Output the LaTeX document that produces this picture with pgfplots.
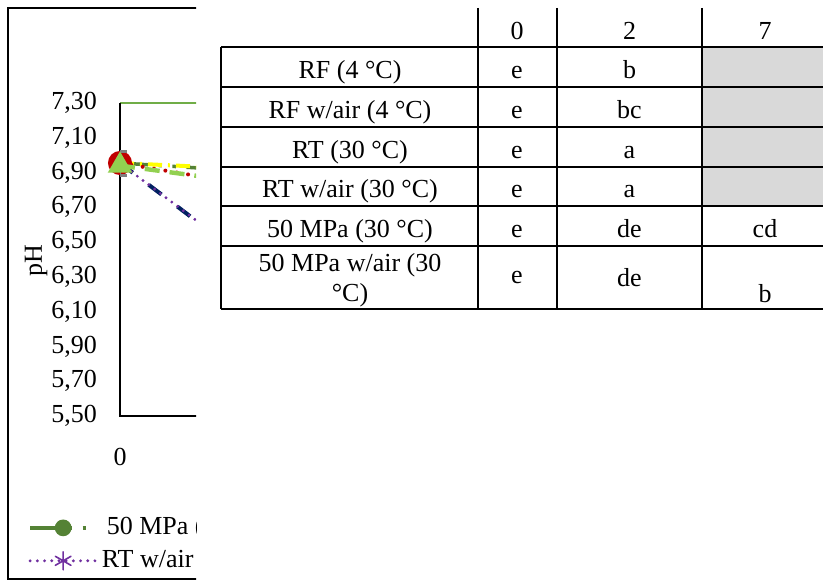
\documentclass[border=0pt]{standalone}
\usepackage{pgfplots}
\pgfplotsset{compat=1.18}
\usepackage{fontspec}
\setmainfont{Liberation Serif}
\definecolor{dkgreen}{HTML}{548235}
\definecolor{axgreen}{HTML}{70AD47}
\definecolor{lime}{HTML}{92D050}
\definecolor{redc}{HTML}{C00000}
\definecolor{yellowc}{HTML}{FFFF00}
\definecolor{navyc}{HTML}{002060}
\definecolor{purplec}{HTML}{7030A0}
\definecolor{errgray}{HTML}{7F7F7F}
\definecolor{tgray}{HTML}{D9D9D9}
\newcommand{\fs}{\fontsize{13}{15.6}\selectfont}
\begin{document}
\fs
\begin{tikzpicture}
\useasboundingbox (0,0) rectangle (411.5pt,-290.5pt);
% ---------- chart (cropped at the right) ----------
\begin{scope}
\clip (0,0) rectangle (98pt,-290.5pt);
\begin{scope}[x=0.5pt,y=-0.5pt]
\draw[line width=1pt] (198,8) -- (8,8) -- (8,579) -- (198,579);
\draw[line width=1pt, color=axgreen] (120,103) -- (198,103);
\draw[line width=1pt] (120,103) -- (120,416) -- (198,416);
\end{scope}
\begin{axis}[
  name=ax,
  at={(60pt,-208pt)}, anchor=south west,
  scale only axis, width=38pt, height=156.5pt,
  xmin=0, xmax=0.50667, ymin=5.5, ymax=7.3,
  axis line style={draw=none},
  major tick length=0pt,
  xtick={0}, xticklabels={0},
  ytick={5.5,5.7,5.9,6.1,6.3,6.5,6.7,6.9,7.1,7.3},
  /pgf/number format/assume math mode=true,
  yticklabel style={/pgf/number format/fixed, /pgf/number format/fixed zerofill,
    /pgf/number format/precision=2, /pgf/number format/use comma, xshift=-7pt},
  xticklabel style={yshift=-11.5pt},
  tick label style={font=\fs},
  ylabel={pH},
  every axis y label/.style={at={(axis description cs:-1.105,0.495)},rotate=90,anchor=center,font=\fs},
  clip mode=individual,
  legend columns=3,
  legend style={at={(axis description cs:-1.2105,-0.3083)}, anchor=north west,
    draw=none, fill=none, inner sep=0pt, font=\fs, nodes={inner sep=2pt}, row sep=1.5pt},
  legend image code/.code={\draw[mark repeat=2,mark phase=2,#1] plot coordinates {(0pt,0pt) (16.5pt,0pt) (33pt,0pt)};},
]
% drawing order
\addplot[forget plot, navyc, line width=2pt, dash pattern=on 8pt off 10pt,
  mark=square*, mark size=3pt, mark options={solid, fill=navyc}]
  coordinates {(0,6.955) (1,6.30)};
\addplot[forget plot, purplec, line width=1.6pt, dash pattern=on 0pt off 3.6pt, line cap=round,
  mark=asterisk, mark size=4.5pt, mark options={solid, line width=0.8pt}]
  coordinates {(0,6.954) (1,6.306)};
\addplot[forget plot, dkgreen, line width=1.75pt,
  dash pattern=on 14pt off 5.25pt on 1.75pt off 5.25pt on 1.75pt off 5.25pt,
  mark=*, mark size=3.3pt, mark options={solid, fill=dkgreen}]
  coordinates {(0,6.955) (1,6.90)};
\addplot[forget plot, yellowc, line width=2pt, dash pattern=on 7pt off 3pt on 1pt off 3pt,
  mark=diamond*, mark size=3.5pt, mark options={solid, fill=yellowc}]
  coordinates {(0,6.955) (1,6.915)};
\addplot[forget plot, redc, line width=2pt, dash pattern=on 0pt off 5.75pt, line cap=round,
  mark=*, mark size=5pt, mark options={solid, fill=redc}]
  coordinates {(0,6.955) (1,6.81)};
\addplot[forget plot, lime, line width=2.2pt, dash pattern=on 7.5pt off 5pt,
  mark=triangle*, mark size=4.9pt, mark options={solid, fill=lime},
  error bars/.cd, y dir=both, y explicit,
  error bar style={errgray, line width=1pt, solid},
  error mark options={rotate=90, mark size=3.25pt, errgray, line width=1.2pt}]
  coordinates {(0,6.94) += (0,0.08) -= (0,0.056) (1,6.825) +- (0,0.05)};
% legend (in legend order)
\addlegendimage{dkgreen, line width=1.75pt, dash pattern=on 14pt off 5.25pt on 1.75pt off 5.25pt on 1.75pt off 5.25pt, mark=*, mark size=3.3pt, mark options={solid, fill=dkgreen}}
\addlegendentry{50 MPa (30 °C)}
\addlegendimage{redc, line width=2pt, dash pattern=on 0pt off 5.75pt, line cap=round, mark=*, mark size=3.3pt, mark options={solid, fill=redc}}
\addlegendentry{RF (4 °C)}
\addlegendimage{yellowc, line width=2pt, dash pattern=on 7pt off 3pt on 1pt off 3pt, mark=diamond*, mark size=3.5pt, mark options={solid, fill=yellowc}}
\addlegendentry{RF w/air (4 °C)}
\addlegendimage{purplec, line width=1.6pt, dash pattern=on 0pt off 3.6pt, line cap=round, mark=asterisk, mark size=4.5pt, mark options={solid, line width=0.8pt}}
\addlegendentry{RT w/air (30 °C)}
\addlegendimage{navyc, line width=2pt, dash pattern=on 8pt off 10pt, mark=square*, mark size=3pt, mark options={solid, fill=navyc}}
\addlegendentry{RT (30 °C)}
\addlegendimage{lime, line width=2.2pt, dash pattern=on 7.5pt off 5pt, mark=triangle*, mark size=3.5pt, mark options={solid, fill=lime}}
\addlegendentry{50 MPa w/air (30 °C)}
\end{axis}
\end{scope}
% ---------- table ----------
\begin{scope}[x=0.5pt,y=-0.5pt]
\fill[tgray] (702,47) rectangle (823,206);
\foreach \yy in {47,87,127,167,206,246,309}{\draw[line width=1pt] (221,\yy) -- (823,\yy);}
\draw[line width=1pt] (221,47) -- (221,309);
\foreach \xx in {478,557,702}{\draw[line width=1pt] (\xx,8) -- (\xx,309);}
\node[anchor=base] at (517,40) {0};
\node[anchor=base] at (629.5,40) {2};
\node[anchor=base] at (765,40) {7};
\node[anchor=base] at (350,79) {RF (4 °C)};
\node[anchor=base] at (350,119) {RF w/air (4 °C)};
\node[anchor=base] at (350,159) {RT (30 °C)};
\node[anchor=base] at (350,198) {RT w/air (30 °C)};
\node[anchor=base] at (350,238) {50 MPa (30 °C)};
\node[anchor=base] at (350,272) {50 MPa w/air (30};
\node[anchor=base] at (350,302) {°C)};
\foreach \yy in {79,119,159,198,238}{\node[anchor=base] at (517,\yy) {e};}
\node[anchor=base] at (517,284) {e};
\node[anchor=base] at (629.5,79) {b};
\node[anchor=base] at (629.5,119) {bc};
\node[anchor=base] at (629.5,159) {a};
\node[anchor=base] at (629.5,198) {a};
\node[anchor=base] at (629.5,238) {de};
\node[anchor=base] at (629.5,287) {de};
\node[anchor=base] at (765,238) {cd};
\node[anchor=base] at (765,303) {b};
\end{scope}
\end{tikzpicture}
\end{document}
